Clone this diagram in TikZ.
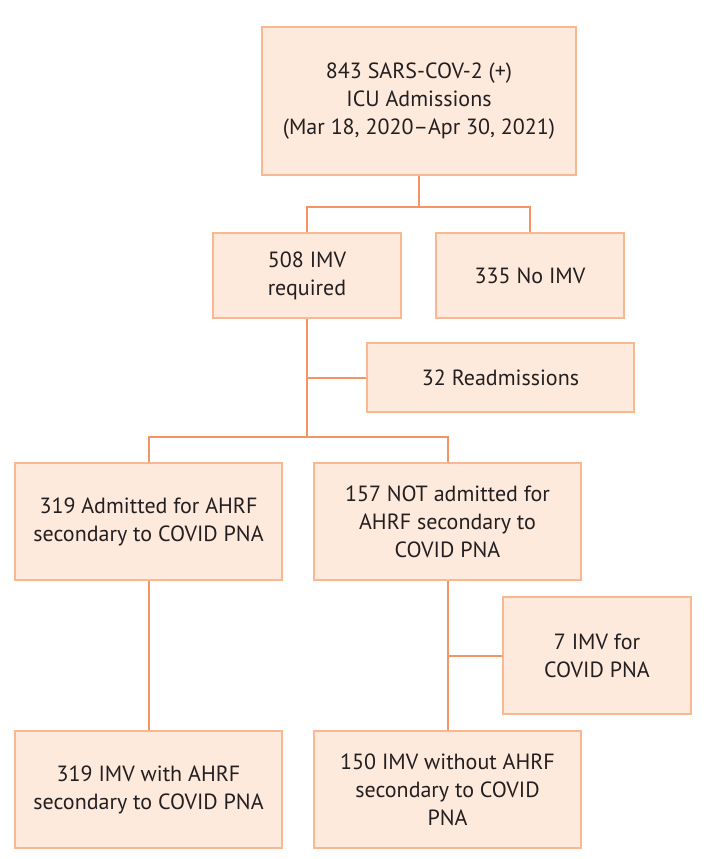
\documentclass[tikz,border=0pt]{standalone}
\usepackage{fontspec}
\setmainfont{PT Sans}
\definecolor{boxfill}{HTML}{FEEADD}
\definecolor{boxline}{HTML}{F7B892}
\definecolor{conn}{HTML}{F59563}
\definecolor{txt}{HTML}{231F20}
\begin{document}
\begin{tikzpicture}[x=1pt,y=-1pt,
  box/.style={draw=boxline,fill=boxfill,line width=1.6pt,align=center,inner sep=0pt,
    text=txt,font=\fontsize{22}{28}\selectfont},
  link/.style={draw=conn,line width=2pt}]
\useasboundingbox (0,0) rectangle (709,859);
\node[box,minimum width=314,minimum height=148] (top) at (419,101) {843 SARS-COV-2 (+)\\ICU Admissions\\(Mar 18, 2020--Apr 30, 2021)};
\node[box,minimum width=188,minimum height=85] (b508) at (307,275.5) {508 IMV\\required};
\node[box,minimum width=188,minimum height=85] (b335) at (530,275.5) {335 No IMV};
\node[box,minimum width=267,minimum height=69] (readm) at (500.5,377.5) {32 Readmissions};
\node[box,minimum width=267,minimum height=117] (b319a) at (148.5,521.5) {319 Admitted for AHRF\\secondary to COVID PNA};
\node[box,minimum width=267,minimum height=117] (b157) at (447.5,521.5) {157 NOT admitted for\\AHRF secondary to\\COVID PNA};
\node[box,minimum width=188,minimum height=117] (b7) at (597,655.5) {7 IMV for\\COVID PNA};
\node[box,minimum width=267,minimum height=117] (b319b) at (148.5,789.5) {319 IMV with AHRF\\secondary to COVID PNA};
\node[box,minimum width=267,minimum height=117] (b150) at (447.5,789.5) {150 IMV without AHRF\\secondary to COVID\\PNA};
\coordinate (j1) at (419,207);
\coordinate (j2) at (307,437);
\draw[link] (top.south) -- (j1);
\draw[link] (b508.north) |- (j1) -| (b335.north);
\draw[link] (b508.south) -- (j2);
\draw[link] (readm.west) -- (readm.west -| b508.south);
\draw[link] (b319a.north) |- (j2) -| (b157.north);
\draw[link] (b319a.south) -- (b319b.north);
\draw[link] (b157.south) -- (b150.north);
\draw[link] (b7.west) -- (b7.west -| b157.south);
\end{tikzpicture}
\end{document}
